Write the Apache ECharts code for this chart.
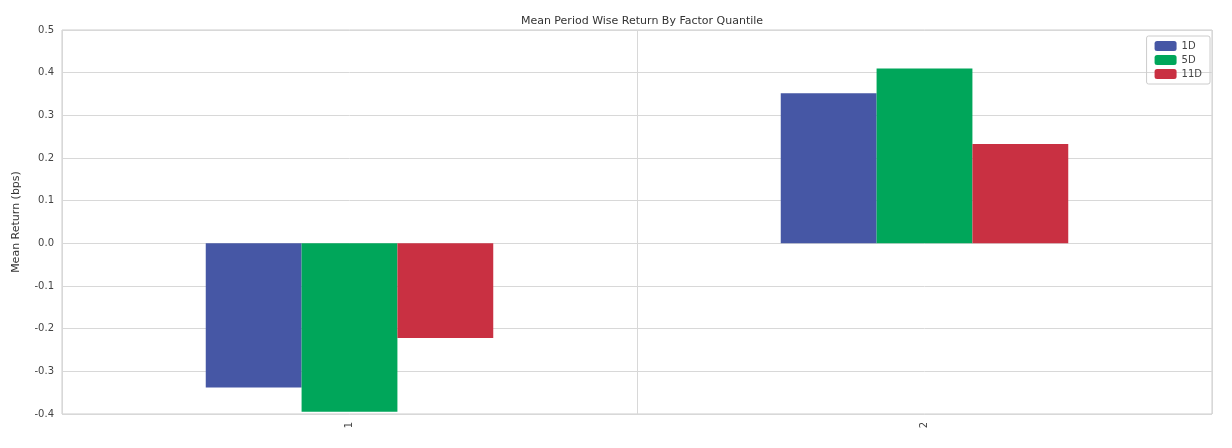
<!DOCTYPE html>
<html>
<head>
<meta charset="utf-8">
<script src="https://cdn.jsdelivr.net/npm/echarts@6/dist/echarts.min.js"></script>
<style>
  html, body { margin: 0; padding: 0; background: #fff; }
  #chart { width: 1232px; height: 448px; }
</style>
</head>
<body>
<div id="chart"></div>
<script>
'use strict'
// 分位数类别
const quantiles = ['1', '2']
// 各周期平均收益
const ret1D = [-0.338, 0.352]
const ret5D = [-0.395, 0.410]
const ret11D = [-0.222, 0.233]
const yTicks = { min: -0.4, max: 0.5, step: 0.1 }

const labelFont = { fontFamily: 'DejaVu Sans', fontSize: 10, color: '#444' }

const chart = echarts.init(document.getElementById('chart'))
chart.setOption({
  backgroundColor: '#fff',
  animation: false,
  title: {
    text: 'Mean Period Wise Return By Factor Quantile',
    left: 637, top: 11, textAlign: 'center',
    textStyle: { fontFamily: 'DejaVu Sans', fontSize: 11, fontWeight: 'normal', color: '#333' }
  },
  legend: {
    right: 22, top: 36, orient: 'vertical', itemGap: 4,
    itemWidth: 22, itemHeight: 10,
    borderColor: '#ccc', borderWidth: 1, borderRadius: 2, padding: [5, 8],
    textStyle: labelFont,
    data: ['1D', '5D', '11D']
  },
  grid: { left: 62, right: 20, top: 30, bottom: 34, show: true, borderColor: '#ccc', borderWidth: 1 },
  xAxis: {
    type: 'category', data: quantiles,
    axisLine: { show: false }, axisTick: { show: false },
    axisLabel: Object.assign({ rotate: 90, margin: 8 }, labelFont),
    splitLine: { show: true, interval: 0, lineStyle: { color: '#d8d8d8' } }
  },
  yAxis: {
    type: 'value', min: yTicks.min, max: yTicks.max, interval: yTicks.step,
    name: 'Mean Return (bps)', nameLocation: 'middle', nameGap: 40,
    nameTextStyle: { fontFamily: 'DejaVu Sans', fontSize: 11, color: '#333' },
    axisLine: { show: false }, axisTick: { show: false },
    axisLabel: Object.assign({ formatter: v => v.toFixed(1) }, labelFont),
    splitLine: { lineStyle: { color: '#d8d8d8' } }
  },
  series: [
    { name: '1D', type: 'bar', data: ret1D, barGap: '0%', barCategoryGap: '50%', itemStyle: { color: '#4657a5' } },
    { name: '5D', type: 'bar', data: ret5D, itemStyle: { color: '#00a65a' } },
    { name: '11D', type: 'bar', data: ret11D, itemStyle: { color: '#c93042' } }
  ]
})
</script>
</body>
</html>
